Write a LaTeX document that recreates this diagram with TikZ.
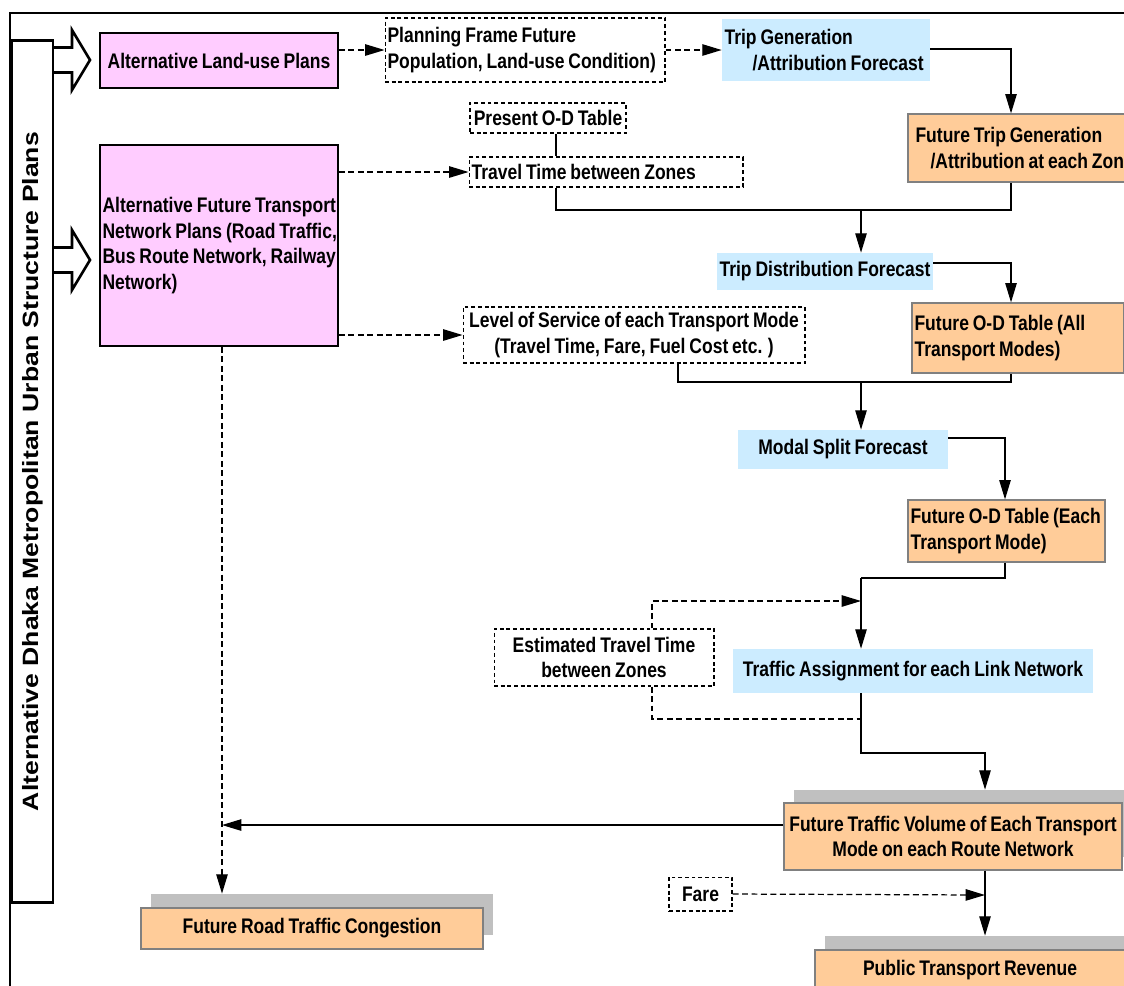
\documentclass[tikz,border=0pt]{standalone}
\usepackage{fontspec}
\newfontfamily\narrowfont{Liberation Sans}[FakeStretch=0.83, WordSpace=0.8]
\newfontfamily\sidefont{Liberation Sans}[FakeStretch=1.2]
\usepackage{tikz}
\usetikzlibrary{arrows.meta}
\usetikzlibrary{positioning}

\definecolor{pinkfill}{HTML}{FFCCFF}
\definecolor{bluefill}{HTML}{CCECFF}
\definecolor{orangefill}{HTML}{FFCC99}
\definecolor{boxgray}{HTML}{808080}
\definecolor{shadegray}{HTML}{C0C0C0}

% espacios naturales dentro de cajas con ancho fijo
\newcommand{\natsp}{\spaceskip=0pt\xspaceskip=0pt\relax}

\begin{document}
\begin{tikzpicture}[
    x=0.02cm, y=-0.02cm,
    box/.style={font=\narrowfont\bfseries\fontsize{12}{14.7}\selectfont, inner xsep=0.05cm, inner ysep=0pt},
    pinkbox/.style={box, draw, line width=1.1pt, fill=pinkfill},
    dashbox/.style={box, draw, line width=0.6pt, dash pattern=on 2.2pt off 1.6pt},
    bluebox/.style={box, fill=bluefill},
    orangebox/.style={box, draw=boxgray, line width=0.7pt, fill=orangefill},
    shadebox/.style={fill=shadegray, inner sep=0pt},
    conn/.style={line width=0.7pt},
    dconn/.style={conn, dash pattern=on 3.4pt off 2pt},
    flow/.style={conn, -{Triangle[length=11pt,width=6.5pt]}},
    dflow/.style={flow, dash pattern=on 3.4pt off 2pt}
]

\clip (0,0) rectangle (1124,985);

% Marco exterior
\draw[line width=1.1pt] (10,990) -- (10,13) -- (1130,13);

% Flechas de bloque
\draw[line width=1.5pt, fill=white] (53,47.5) -- (72,47.5) -- (72,30) -- (90,60) -- (72,90) -- (72,72.5) -- (53,72.5);
\draw[line width=1.5pt, fill=white] (53,247.5) -- (72,247.5) -- (72,230) -- (90,260) -- (72,290) -- (72,272.5) -- (53,272.5);

% Planes de estructura urbana
\node[draw, line width=1.7pt, fill=white, rotate=90, minimum width=17.26cm, minimum height=0.82cm, inner sep=0pt,
      font=\sidefont\bfseries\fontsize{12.6}{14}\selectfont] (side) at (32.5,471.5) {Alternative Dhaka Metropolitan Urban Structure Plans};

% Planes alternativos
\node[pinkbox, minimum width=4.76cm, minimum height=1.1cm] (landuse) at (219,60.5) {Alternative Land-use Plans};
\node[pinkbox, text width=4.66cm, minimum height=4.02cm, align=left] (network) at (219,245.5)
    {\natsp\mbox{Alternative Future Transport}\\\mbox{Network Plans (Road Traffic,}\\\mbox{Bus Route Network, Railway}\\\mbox{Network)}};

% Datos de entrada
\node[dashbox, text width=5.5cm, minimum height=1.28cm, align=left] (frame) at (525,50)
    {\natsp\mbox{Planning Frame Future}\\\mbox{Population, Land-use Condition)}};
\node[dashbox, minimum width=3.12cm, minimum height=0.6cm] (presod) at (548,118) {Present O-D Table};
\node[dashbox, text width=5.38cm, minimum height=0.6cm, align=left] (traveltime) at (606,172) {\natsp\mbox{Travel Time between Zones}};
\node[dashbox, minimum width=6.84cm, minimum height=1.12cm, align=center] (service) at (634,335)
    {Level of Service of each Transport Mode\\(Travel Time, Fare, Fuel Cost etc. )};
\node[dashbox, minimum width=4.4cm, minimum height=1.14cm, align=center] (esttime) at (604,657.5) {Estimated Travel Time\\between Zones};
\node[dashbox, minimum width=1.26cm, minimum height=0.68cm] (fare) at (700.5,894) {Fare};

% Etapas de prediccion
\node[bluebox, text width=4.06cm, minimum height=1.24cm, align=left] (tripgen) at (826,50)
    {\natsp\mbox{Trip Generation}\\\mbox{\hspace*{0.56cm}/Attribution Forecast}};
\node[bluebox, minimum width=4.32cm, minimum height=0.74cm] (tripdist) at (825,271.5) {Trip Distribution Forecast};
\node[bluebox, minimum width=4.2cm, minimum height=0.78cm] (modal) at (843,449.5) {Modal Split Forecast};
\node[bluebox, minimum width=7.2cm, minimum height=0.88cm] (assign) at (913,671) {Traffic Assignment for each Link Network};

% Resultados
\node[orangebox, text width=4.44cm, minimum height=1.36cm, align=left] (futgen) at (1021.5,148)
    {\natsp\mbox{\hspace*{0.1cm}Future Trip Generation}\\\mbox{\hspace*{0.4cm}/Attribution at each Zone}};
\node[orangebox, text width=4.14cm, minimum height=1.4cm, align=left] (odall) at (1018,338)
    {\natsp\mbox{Future O-D Table (All}\\\mbox{Transport Modes)}};
\node[orangebox, text width=3.84cm, minimum height=1.24cm, align=left] (odeach) at (1006.5,531)
    {\natsp\mbox{Future O-D Table (Each}\\\mbox{Transport Mode)}};
\node[shadebox, minimum width=6.76cm, minimum height=1.34cm] (volshade) at (963,823.5) {};
\node[orangebox, minimum width=6.76cm, minimum height=1.34cm, align=center] (volume) at (953,836.5)
    {Future Traffic Volume of Each Transport\\Mode on each Route Network};
\node[shadebox, minimum width=6.84cm, minimum height=0.82cm] (congshade) at (322,914.5) {};
\node[orangebox, minimum width=6.84cm, minimum height=0.82cm] (congestion) at (312,928.5) {Future Road Traffic Congestion};
\node[shadebox, minimum width=6.2cm, minimum height=0.8cm] (revshade) at (980,956) {};
\node[orangebox, minimum width=6.2cm, minimum height=0.8cm] (revenue) at (970,970) {Public Transport Revenue};

% Puntos de quiebre
\coordinate (tgR) at (1011,49);
\coordinate (tdR) at (1011,263);
\coordinate (msR) at (1005,438);
\coordinate (k1) at (556,210);
\coordinate (j1) at (861,210);
\coordinate (k2) at (678,382);
\coordinate (j2) at (861,382);
\coordinate (j3) at (861,578);
\coordinate (e1) at (652,601);
\coordinate (e2) at (652,719);
\coordinate (a1) at (861,753);
\coordinate (a2) at (985,753);
\coordinate (f1) at (985,895);
\coordinate (c1) at (222,825);

% Conexiones
\draw[dflow] (landuse.east |- frame.west) -- (frame.west);
\draw[dflow] (frame.east) -- (tripgen.west);
\draw[flow] (tripgen.east |- tgR) -- (tgR) -- (futgen.north -| tgR);
\draw[conn] (presod.south -| k1) -- (traveltime.north -| k1);
\draw[conn] (traveltime.south -| k1) -- (k1) -- (k1 -| tgR) -- (futgen.south -| tgR);
\draw[flow] (j1) -- (tripdist.north -| j1);
\draw[dflow] (network.east |- traveltime.west) -- (traveltime.west);
\draw[flow] (tripdist.east |- tdR) -- (tdR) -- (odall.north -| tdR);
\draw[dflow] (network.east |- service.west) -- (service.west);
\draw[conn] (service.south -| k2) -- (k2) -- (k2 -| tdR) -- (odall.south -| tdR);
\draw[flow] (j2) -- (modal.north -| j2);
\draw[flow] (modal.east |- msR) -- (msR) -- (odeach.north -| msR);
\draw[conn] (odeach.south -| msR) -- (msR |- j3) -- (j3);
\draw[flow] (j3) -- (assign.north -| j3);
\draw[dflow] (esttime.north -| e1) -- (e1) -- (e1 -| j3);
\draw[dconn] (esttime.south -| e1) -- (e2) -- (e2 -| j3);
\draw[flow] (assign.south -| a1) -- (a1) -- (a2) -- (volshade.north -| a2);
\draw[flow] (volume.west |- c1) -- (c1);
\draw[dflow] (network.south -| c1) -- (congshade.north -| c1);
\draw[flow] (volume.south -| f1) -- (revshade.north -| f1);
\draw[dflow] (fare.east) -- (f1);

\end{tikzpicture}
\end{document}
